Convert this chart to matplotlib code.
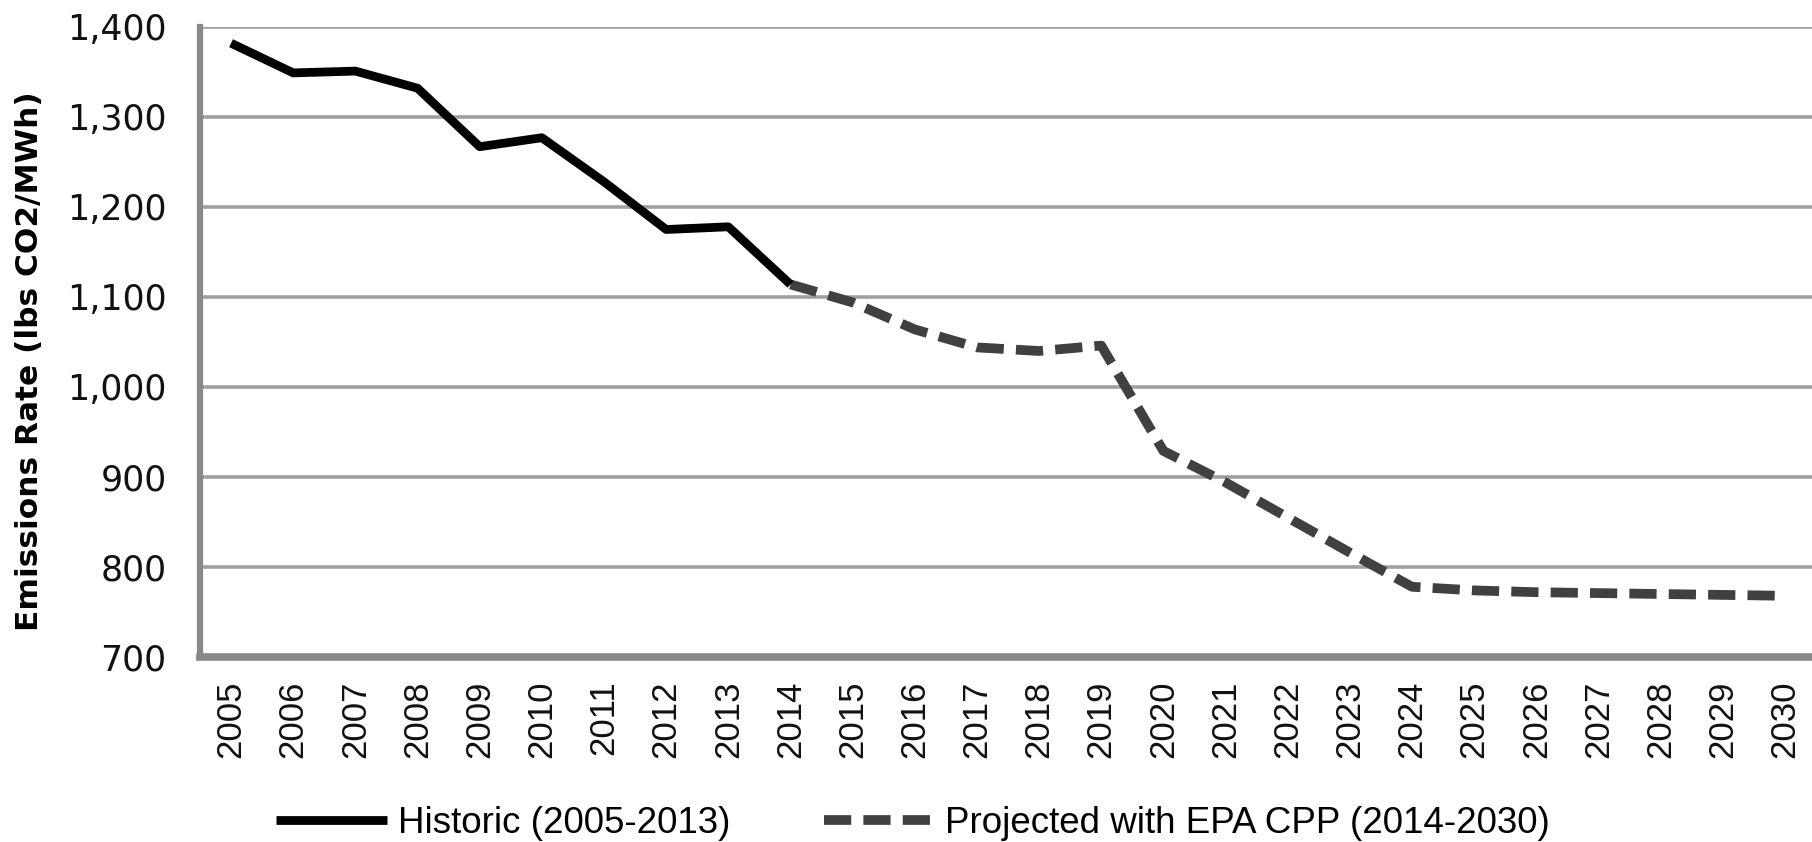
import matplotlib
matplotlib.use("Agg")
from matplotlib import pyplot as plt
from matplotlib.ticker import FuncFormatter, MultipleLocator


# Data
years = [str(y) for y in range(2005, 2031)]
historic_years = years[0:10]
historic_values = [1382, 1349, 1351, 1332, 1267, 1277, 1228, 1175, 1178, 1114]
projected_years = years[9:]
projected_values = [1114, 1094, 1064, 1044, 1040, 1046, 929, 894, 855, 816,
                    778, 774, 772, 771, 770, 769, 768]

historic_label = "Historic (2005-2013)"
projected_label = "Projected with EPA CPP (2014-2030)"
y_label = "Emissions Rate (lbs CO2/MWh)"


fig = plt.figure(figsize=(18.12, 8.42), dpi=100)
ax = fig.add_axes([200 / 1812, 1 - 657 / 842, 1616 / 1812, 630 / 842])

x_hist = [years.index(y) for y in historic_years]
x_proj = [years.index(y) for y in projected_years]

ax.plot(x_proj, projected_values, color="#404040", lw=7,
        linestyle=(0, (2.8, 1.25)), dash_capstyle="butt",
        solid_joinstyle="round", label=projected_label, zorder=3)
ax.plot(x_hist, historic_values, color="black", lw=6.3,
        solid_joinstyle="round", solid_capstyle="butt",
        label=historic_label, zorder=4)

ax.set_xlim(-0.5, 25.5)
ax.set_ylim(700, 1400)
ax.yaxis.set_major_locator(MultipleLocator(100))
ax.yaxis.set_major_formatter(FuncFormatter(lambda v, p: "{:,.0f}".format(v)))
ax.set_xticks(range(len(years)))
ax.set_xticklabels(years, rotation=90, fontfamily="Liberation Sans", fontsize=25)
for lbl in ax.get_yticklabels():
	lbl.set_fontfamily("DejaVu Sans")
	lbl.set_fontsize(25)

ax.tick_params(axis="both", length=0, labelcolor="#111111")
ax.tick_params(axis="y", pad=24)
ax.tick_params(axis="x", pad=17)

ax.grid(axis="y", color="#a0a0a0", lw=2.6)
ax.set_axisbelow(True)
for side in ["top", "right"]:
	ax.spines[side].set_visible(False)
ax.spines["left"].set_color("#888888")
ax.spines["left"].set_linewidth(4.5)
ax.spines["bottom"].set_color("#888888")
ax.spines["bottom"].set_linewidth(5.5)

ax.set_ylabel(y_label, fontfamily="DejaVu Sans", fontweight="bold", fontsize=22.5)
ax.yaxis.set_label_coords(-156 / 1616, 0.47)

handles, labels = ax.get_legend_handles_labels()
leg = fig.legend(handles[::-1], labels[::-1], loc="center",
                 bbox_to_anchor=(0.504, 0.022), ncol=2, frameon=False,
                 prop={"family": "Liberation Sans", "size": 26.5},
                 handlelength=3.0, handletextpad=0.3, columnspacing=2.55,
                 borderpad=0)

fig.savefig("out.png", dpi=100)
